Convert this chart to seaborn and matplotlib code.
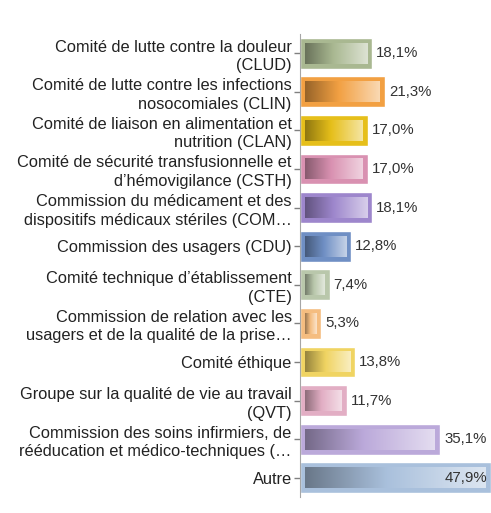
import numpy as np
import pandas as pd
import matplotlib.pyplot as plt
import seaborn as sns
from matplotlib.colors import LinearSegmentedColormap, to_rgb

categories = ["Comité de lutte contre la douleur\n(CLUD)",
              "Comité de lutte contre les infections\nnosocomiales (CLIN)",
              "Comité de liaison en alimentation et\nnutrition (CLAN)",
              "Comité de sécurité transfusionnelle et\nd’hémovigilance (CSTH)",
              "Commission du médicament et des\ndispositifs médicaux stériles (COM…",
              "Commission des usagers (CDU)",
              "Comité technique d’établissement\n(CTE)",
              "Commission de relation avec les\nusagers et de la qualité de la prise…",
              "Comité éthique",
              "Groupe sur la qualité de vie au travail\n(QVT)",
              "Commission des soins infirmiers, de\nrééducation et médico-techniques (…",
              "Autre"]
values = [18.1, 21.3, 17.0, 17.0, 18.1, 12.8, 7.4, 5.3, 13.8, 11.7, 35.1, 47.9]
colors = ["#a9b891", "#f2a042", "#e6bf1a", "#d991b1", "#9d86cc", "#6f8fc4",
          "#b9c7ab", "#f5bd80", "#f0d462", "#e2aec4", "#bba9da", "#a9c0dc"]
value_labels = [f"{v:.1f}%".replace(".", ",") for v in values]

sns.set_style("white")
plt.rcParams['font.family'] = ['Liberation Sans', 'DejaVu Sans']

df = pd.DataFrame({"cat": categories, "val": values})

fig = plt.figure(figsize=(4.91, 5.13), dpi=100)
ax = fig.add_axes([0.611, 0.031, 0.389, 0.903])
sns.barplot(data=df, x="val", y="cat", hue="cat", palette=colors, legend=False,
            saturation=1, width=0.8, ax=ax)
ax.set_xlim(0, 47.9)
ax.set_ylim(len(values) - 0.5, -0.5)

# gradient fill inside each bar (dark -> base -> light), leaving a frame
fig.canvas.draw()
bb = ax.get_window_extent()
dx = 5 * 47.9 / bb.width
dy = 5 * len(values) / bb.height
for patch, col in zip(ax.patches, colors):
    x0, y0 = patch.get_x(), patch.get_y()
    w, h = patch.get_width(), patch.get_height()
    base = np.array(to_rgb(col))
    dark = base * 0.62
    light = base + (1 - base) * 0.6
    cmap = LinearSegmentedColormap.from_list("g", [(0, dark), (0.45, base), (1, light)])
    grad = np.linspace(0, 1, 256).reshape(1, -1)
    ax.imshow(grad, cmap=cmap, aspect="auto", interpolation="bicubic",
              extent=[x0 + dx, x0 + w - dx, y0 + h - dy, y0 + dy], zorder=3)
ax.set_xlim(0, 47.9)
ax.set_ylim(len(values) - 0.5, -0.5)

for i, cont in enumerate(ax.containers):
    txts = ax.bar_label(cont, labels=[value_labels[i]], padding=3,
                        fontsize=10.8, color="#333333")
    if i == len(values) - 1:
        for t in txts:
            t.set_horizontalalignment("right")
            t.xyann = (-3, 0)

ax.set_xlabel("")
ax.set_ylabel("")
ax.set_xticks([])
for s in ["top", "right", "bottom"]:
    ax.spines[s].set_visible(False)
ax.spines["left"].set_color("#a6a6a6")
ax.tick_params(axis="y", length=4, width=1, color="#808080", left=True,
               labelsize=11.8, labelcolor="#222222", pad=2)
for t in ax.get_yticklabels():
    t.set_linespacing(1.3)

fig.savefig("out.png", dpi=100)
